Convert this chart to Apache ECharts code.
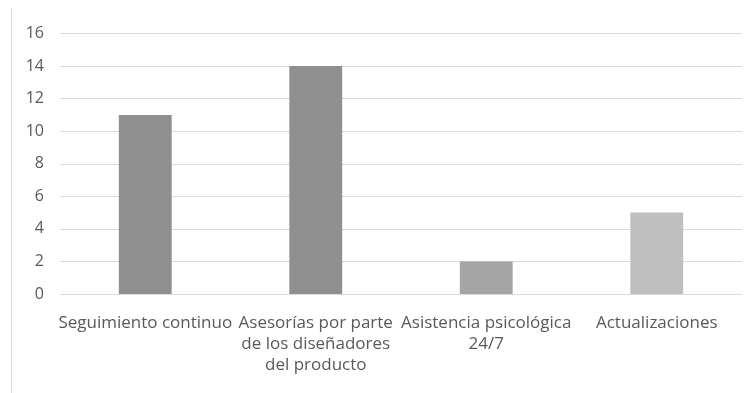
<!DOCTYPE html>
<html>
<head>
<meta charset="utf-8">
<script src="https://cdn.jsdelivr.net/npm/echarts@6/dist/echarts.min.js"></script>
<style>
    html, body { margin: 0; padding: 0; background: #fff; }
    #chart { width: 752px; height: 393px; }
</style>
</head>
<body>
<div id="chart"></div>
<script>
    var categories = [
        'Seguimiento continuo',
        'Asesorías por parte\nde los diseñadores\ndel producto',
        'Asistencia psicológica\n24/7',
        'Actualizaciones'
    ];
    var values = [11, 14, 2, 5];
    var barColors = ['#8f8f8f', '#8f8f8f', '#a5a5a5', '#bfbfbf'];

    var myChart = echarts.init(document.getElementById('chart'));
    var option = {
        animation: false,
        textStyle: { fontFamily: 'Open Sans' },
        grid: { left: 60, right: 10, top: 33.5, bottom: 99 },
        graphic: [{
            type: 'line',
            shape: { x1: 11.5, y1: 8, x2: 11.5, y2: 393 },
            style: { stroke: '#d9d9d9', lineWidth: 1 }
        }],
        xAxis: {
            type: 'category',
            data: categories,
            axisLine: { lineStyle: { color: '#d9d9d9' } },
            axisTick: { show: false },
            axisLabel: {
                color: '#595959',
                fontSize: 17,
                lineHeight: 21,
                margin: 19,
                interval: 0
            }
        },
        yAxis: {
            type: 'value',
            min: 0,
            max: 16,
            interval: 2,
            axisLine: { show: false },
            axisTick: { show: false },
            splitLine: { lineStyle: { color: '#d9d9d9' } },
            axisLabel: { color: '#595959', fontSize: 16, margin: 16 }
        },
        series: [{
            type: 'bar',
            barWidth: '31%',
            data: values.map(function (v, i) {
                return { value: v, itemStyle: { color: barColors[i] } };
            })
        }]
    };
    myChart.setOption(option);
</script>
</body>
</html>
